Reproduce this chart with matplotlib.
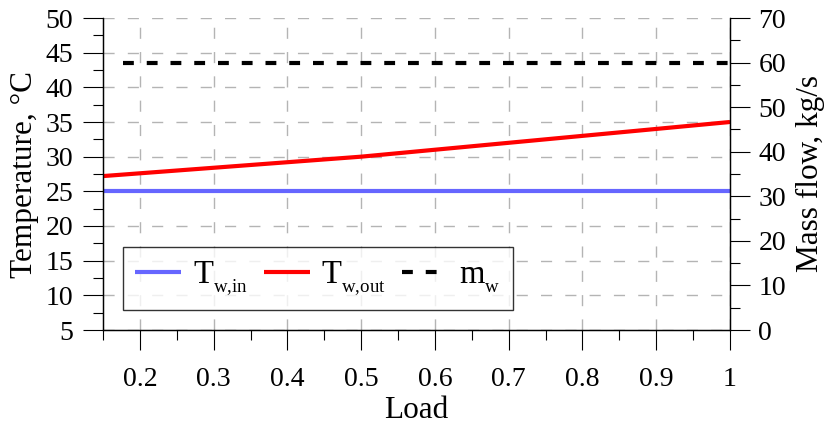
import matplotlib
matplotlib.use("Agg")
import matplotlib.pyplot as plt
from matplotlib.ticker import MultipleLocator
try:
    import matplotlib._mathtext as _mt
    _mt.SHRINK_FACTOR = 0.58
    _mt.FontConstantsBase.sub1 = 0.6
    _mt.FontConstantsBase.sub2 = 0.7
except Exception:
    pass

plt.rcParams['font.family'] = ['Liberation Serif', 'DejaVu Serif']
plt.rcParams['mathtext.fontset'] = 'custom'
plt.rcParams['mathtext.rm'] = 'Liberation Serif'
plt.rcParams['mathtext.it'] = 'Liberation Serif:italic'

# Data
load = [0.15, 0.2, 0.3, 0.4, 0.5, 0.6, 0.7, 0.8, 0.9, 1.0]
t_w_in = [25, 25, 25, 25, 25, 25, 25, 25, 25, 25]
t_w_out = [27.2, 27.6, 28.4, 29.2, 30.0, 31.0, 32.0, 33.0, 34.0, 35.0]
load_mw = [0.177, 0.2, 0.3, 0.4, 0.5, 0.6, 0.7, 0.8, 0.9, 1.0]
m_w = [60, 60, 60, 60, 60, 60, 60, 60, 60, 60]

labels = [r'T$_\mathregular{w{,}in}$', r'T$_\mathregular{w{,}out}$', r'm$_\mathregular{w}$']
x_ticks = [0.2, 0.3, 0.4, 0.5, 0.6, 0.7, 0.8, 0.9, 1.0]
x_ticklabels = ['0.2', '0.3', '0.4', '0.5', '0.6', '0.7', '0.8', '0.9', '1']

fig = plt.figure(figsize=(8.29, 4.26), dpi=100)
ax = fig.add_axes([103/829, 1-330/426, 627/829, 312/426])
ax2 = ax.twinx()

fs = 20
lfs = 22.5
l1, = ax.plot(load, t_w_in, color='#6666ff', lw=3, solid_capstyle='butt')
l2, = ax.plot(load, t_w_out, color='#ff0000', lw=3, solid_capstyle='butt')
l3, = ax2.plot(load_mw, m_w, color='black', lw=3, linestyle=(0, (2.6, 3.1)))

ax.set_xlim(0.15, 1.0)
ax.set_ylim(5, 50)
ax2.set_ylim(0, 70)

ax.set_xticks(x_ticks)
ax.set_xticklabels(x_ticklabels)
ax.xaxis.set_minor_locator(MultipleLocator(0.05))
ax.yaxis.set_major_locator(MultipleLocator(5))
ax.yaxis.set_minor_locator(MultipleLocator(2.5))
ax2.yaxis.set_major_locator(MultipleLocator(10))
ax2.yaxis.set_minor_locator(MultipleLocator(5))

grid_kw = dict(color='#b4b4b4', lw=1.0, linestyle=(0, (8, 9.5)))
ax.grid(True, which='major', **grid_kw)
ax.set_axisbelow(True)

for a in (ax, ax2):
    a.spines['top'].set_visible(False)
    for s in a.spines.values():
        s.set_linewidth(0.9)

ax.tick_params(axis='both', which='major', direction='out', length=14.4, width=0.8, labelsize=fs)
ax.tick_params(axis='both', which='minor', direction='out', length=7.2, width=0.8)
ax.tick_params(axis='x', which='major', pad=12)
ax.tick_params(axis='y', which='major', pad=7)
ax2.tick_params(axis='y', which='major', direction='out', length=14.4, width=0.8, labelsize=fs, pad=6)
ax2.tick_params(axis='y', which='minor', direction='out', length=7.2, width=0.8)

ax.set_xlabel('Load', fontsize=lfs, labelpad=3)
ax.set_ylabel('Temperature, °C', fontsize=lfs, labelpad=5)
ax2.set_ylabel('Mass flow, kg/s', fontsize=lfs, labelpad=7)

leg = ax.legend([l1, l2, l3], labels, loc='lower left',
                bbox_to_anchor=(0.032, 0.064), ncol=3, fontsize=23.5,
                frameon=True, fancybox=False, edgecolor='black',
                handlelength=1.4, handletextpad=0.35, columnspacing=0.5,
                borderpad=0.38, borderaxespad=0)
leg.get_frame().set_linewidth(1.0)
leg.set_zorder(10)

fig.savefig('out.png', dpi=100)
